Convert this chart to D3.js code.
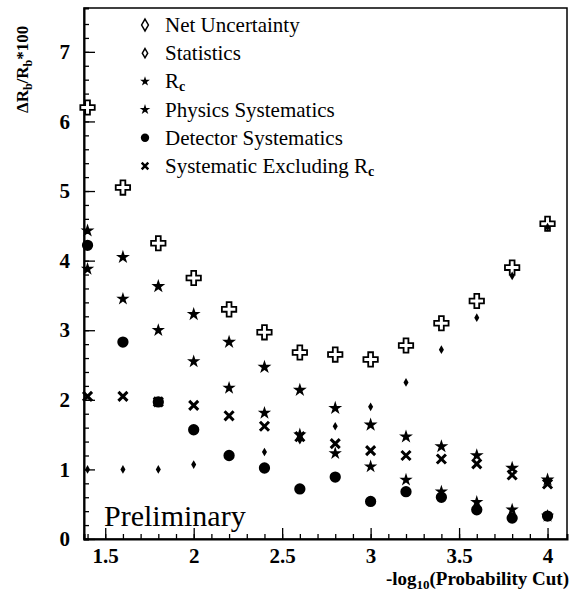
<!DOCTYPE html>
<html>
<head>
<meta charset="utf-8">
<script src="https://cdn.jsdelivr.net/npm/d3@7"></script>
<style>
  body { margin: 0; background: #fff; }
  text { font-family: "Liberation Serif", "DejaVu Serif", serif; }
</style>
</head>
<body>
<div id="chart"></div>
<script>
// probability cut values (x)
const cuts = [1.4, 1.6, 1.8, 2.0, 2.2, 2.4, 2.6, 2.8, 3.0, 3.2, 3.4, 3.6, 3.8, 4.0]

// series values
const netUncertainty = [6.2, 5.05, 4.25, 3.75, 3.3, 2.97, 2.68, 2.65, 2.58, 2.78, 3.1, 3.42, 3.9, 4.53]
const statistics     = [1.0, 1.0, 1.0, 1.07, 1.2, 1.25, 1.42, 1.62, 1.9, 2.25, 2.72, 3.18, 3.78, 4.48]
const rcValues       = [3.88, 3.45, 3.0, 2.55, 2.17, 1.81, 1.5, 1.23, 1.04, 0.85, 0.68, 0.53, 0.42, 0.33]
const physicsSyst    = [4.43, 4.05, 3.63, 3.23, 2.83, 2.47, 2.14, 1.88, 1.64, 1.47, 1.33, 1.2, 1.02, 0.85]
const detectorSyst   = [4.22, 2.83, 1.97, 1.57, 1.2, 1.02, 0.72, 0.89, 0.54, 0.68, 0.6, 0.42, 0.3, 0.33]
const systExclRc     = [2.05, 2.05, 1.97, 1.92, 1.77, 1.62, 1.47, 1.37, 1.27, 1.2, 1.15, 1.08, 0.92, 0.79]

const xTicks = [1.5, 2, 2.5, 3, 3.5, 4]
const yTicks = [0, 1, 2, 3, 4, 5, 6, 7]

const width = 569, height = 591
const margin = {left: 84, right: 2, top: 8, bottom: 52}

const svg = d3.select("#chart").append("svg")
    .attr("width", width)
    .attr("height", height)

const x = d3.scaleLinear().domain([1.38, 4.11]).range([margin.left, width - margin.right])
const y = d3.scaleLinear().domain([0, 7.63]).range([height - margin.bottom, margin.top])

//frame
svg.append("rect")
    .attr("x", margin.left).attr("y", margin.top)
    .attr("width", width - margin.right - margin.left)
    .attr("height", height - margin.bottom - margin.top)
    .attr("fill", "none").attr("stroke", "#000").attr("stroke-width", 1.5)

//axes (ticks pointing in)
const xMinor = d3.range(14, 41).map(d => d / 10)
const yMinor = d3.range(0, 38).map(d => d / 5)

svg.append("g")
    .attr("transform", `translate(0,${y(0)})`)
    .call(d3.axisBottom(x).tickValues(xMinor).tickSize(-5).tickFormat(""))
    .call(g => g.select(".domain").attr("stroke-width", 2))

svg.append("g")
    .attr("transform", `translate(0,${y(0)})`)
    .call(d3.axisBottom(x).tickValues(xTicks).tickSize(-11).tickPadding(9).tickFormat(d3.format("")))
    .call(g => g.select(".domain").remove())
    .call(g => g.selectAll("text").attr("font-size", 21).attr("font-weight", "bold"))

svg.append("g")
    .attr("transform", `translate(${x.range()[0]},0)`)
    .call(d3.axisLeft(y).tickValues(yMinor).tickSize(-5).tickFormat(""))
    .call(g => g.select(".domain").attr("stroke-width", 2))

svg.append("g")
    .attr("transform", `translate(${x.range()[0]},0)`)
    .call(d3.axisLeft(y).tickValues(yTicks).tickSize(-11).tickPadding(14).tickFormat(d3.format("d")))
    .call(g => g.select(".domain").remove())
    .call(g => g.selectAll("text").attr("font-size", 21).attr("font-weight", "bold"))

svg.selectAll(".tick line").attr("stroke-width", 1.3)

//markers
const series = [
    {name: "Net Uncertainty", values: netUncertainty, type: d3.symbolCross, size: 115, fill: "#fff", stroke: "#000", sw: 1.8},
    {name: "Statistics", values: statistics, type: d3.symbolDiamond, size: 22, fill: "#000", stroke: "none", sw: 0},
    {name: "Rc", values: rcValues, type: d3.symbolStar, size: 55, fill: "#000", stroke: "none", sw: 0},
    {name: "Physics Systematics", values: physicsSyst, type: d3.symbolStar, size: 60, fill: "#000", stroke: "none", sw: 0},
    {name: "Detector Systematics", values: detectorSyst, type: d3.symbolCircle, size: 100, fill: "#000", stroke: "none", sw: 0},
    {name: "Systematic Excluding Rc", values: systExclRc, type: d3.symbolTimes, size: 55, fill: "none", stroke: "#000", sw: 3}
]

const plot = svg.append("g")
series.forEach(s => {
    plot.selectAll(null)
        .data(cuts.map((c, i) => [c, s.values[i]]))
        .enter().append("path")
        .attr("d", d3.symbol().type(s.type).size(s.size))
        .attr("transform", d => `translate(${x(d[0])},${y(d[1])})`)
        .attr("fill", s.fill)
        .attr("stroke", s.stroke)
        .attr("stroke-width", s.sw)
})

//legend
const legendTypes = [
    {label: "Net Uncertainty", type: d3.symbolDiamond, size: 40, fill: "#fff", stroke: "#000", sw: 1.5},
    {label: "Statistics", type: d3.symbolDiamond, size: 25, fill: "#fff", stroke: "#000", sw: 1.5},
    {label: "R", sub: "c", type: d3.symbolStar, size: 30, fill: "#000", stroke: "none", sw: 0},
    {label: "Physics Systematics", type: d3.symbolStar, size: 35, fill: "#000", stroke: "none", sw: 0},
    {label: "Detector Systematics", type: d3.symbolCircle, size: 55, fill: "#000", stroke: "none", sw: 0},
    {label: "Systematic Excluding R", sub: "c", type: d3.symbolTimes, size: 30, fill: "none", stroke: "#000", sw: 2.5}
]
const legend = svg.append("g")
legendTypes.forEach((l, i) => {
    const ly = 25 + i * 28.2
    legend.append("path")
        .attr("d", d3.symbol().type(l.type).size(l.size))
        .attr("transform", `translate(145,${ly})`)
        .attr("fill", l.fill).attr("stroke", l.stroke).attr("stroke-width", l.sw)
    const t = legend.append("text")
        .attr("x", 165).attr("y", ly + 7)
        .attr("font-size", 21)
        .text(l.label)
    if (l.sub) t.append("tspan").attr("font-size", 14).attr("dy", 3).attr("font-weight", "bold").text(l.sub)
})

//preliminary
svg.append("text")
    .attr("x", 104).attr("y", 526)
    .attr("font-size", 30)
    .text("Preliminary")

//x label
const xl = svg.append("text")
    .attr("x", 569).attr("y", 585)
    .attr("text-anchor", "end")
    .attr("font-size", 19).attr("font-weight", "bold")
xl.append("tspan").text("-log")
xl.append("tspan").attr("font-size", 13).attr("dy", 4).text("10")
xl.append("tspan").attr("dy", -4).text("(Probability Cut)")

//y label
const yl = svg.append("text")
    .attr("transform", "translate(28,113) rotate(-90)")
    .attr("font-size", 17).attr("font-weight", "bold")
yl.append("tspan").text("\u0394R")
yl.append("tspan").attr("font-size", 12).attr("dy", 4).text("b")
yl.append("tspan").attr("dy", -4).text("/R")
yl.append("tspan").attr("font-size", 12).attr("dy", 4).text("b")
yl.append("tspan").attr("dy", -4).text("*100")
</script>
</body>
</html>
